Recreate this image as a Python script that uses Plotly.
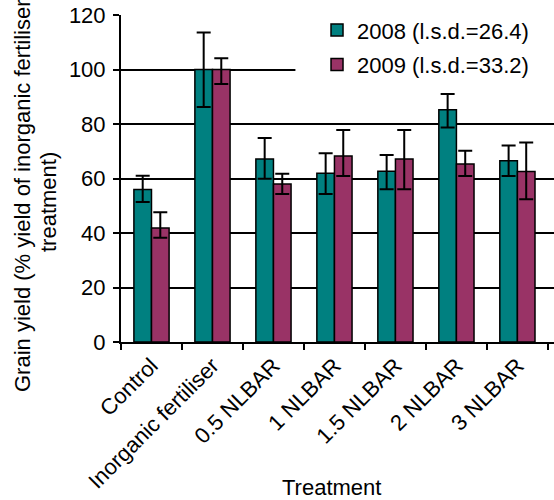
import plotly.graph_objects as go

categories = ["Control", "Inorganic fertiliser", "0.5 NLBAR", "1 NLBAR", "1.5 NLBAR", "2 NLBAR", "3 NLBAR"]
y2008 = [56.0, 100.0, 67.2, 61.9, 62.7, 85.2, 66.5]
y2008_plus = [5.0, 13.6, 7.7, 7.4, 5.9, 5.8, 5.6]
y2008_minus = [4.6, 13.8, 7.3, 7.6, 6.6, 6.5, 5.6]
y2009 = [41.8, 100.0, 58.0, 68.3, 67.2, 65.3, 62.6]
y2009_plus = [5.8, 4.1, 3.7, 9.5, 10.6, 4.9, 10.6]
y2009_minus = [3.5, 5.3, 3.7, 7.4, 11.1, 4.4, 10.2]
names = ["2008 (l.s.d.=26.4)", "2009 (l.s.d.=33.2)"]
colors = ["#008080", "#993366"]
yticks = [0, 20, 40, 60, 80, 100, 120]
ytitle = ["Grain yield (% yield of inorganic fertiliser", "treatment)"]
xtitle = "Treatment"

FONT = "Arial, 'Liberation Sans', sans-serif"

fig = go.Figure()
for vals, ep, em, name, col in [
    (y2008, y2008_plus, y2008_minus, names[0], colors[0]),
    (y2009, y2009_plus, y2009_minus, names[1], colors[1]),
]:
    fig.add_trace(go.Bar(
        x=categories, y=vals, name=name, legendgroup=name,
        marker=dict(color=col, line=dict(color="black", width=1.5)),
        error_y=dict(type="data", symmetric=False, array=ep, arrayminus=em,
                     color="black", thickness=2, width=7),
    ))

PLOT_L, PLOT_W, PLOT_B, PLOT_H = 121, 433, 342, 327

fig.update_layout(
    width=554, height=500,
    margin=dict(l=PLOT_L, r=0, t=15, b=158),
    paper_bgcolor="white", plot_bgcolor="white",
    font=dict(family=FONT, size=22, color="black"),
    barmode="group", bargap=0.423, bargroupgap=0,
    showlegend=True,
    legend=dict(x=0.4527, y=1.018, xanchor="left", yanchor="top",
                bgcolor="rgba(0,0,0,0)", borderwidth=0,
                font=dict(family=FONT, size=22, color="black"),
                traceorder="grouped", tracegroupgap=3),
    xaxis=dict(
        type="category", tickangle=-45, tickson="boundaries",
        ticks="outside", ticklen=6, tickwidth=2, tickcolor="black",
        showline=True, linecolor="black", linewidth=2,
        showgrid=False, tickfont=dict(size=22),
    ),
    yaxis=dict(
        range=[0, 120], tickvals=yticks, ticktext=[str(v) for v in yticks],
        ticks="outside", ticklen=6, tickwidth=2, tickcolor="black",
        showline=True, linecolor="black", linewidth=2,
        showgrid=True, gridcolor="black", gridwidth=2,
        zeroline=False, tickfont=dict(size=22), ticklabelstandoff=3,
    ),
    shapes=[
        dict(type="rect", layer="between", xref="x", yref="y",
             x0=2.36, x1=6.6, y0=92, y1=120.6,
             fillcolor="white", line=dict(width=0)),
    ],
    annotations=[
        dict(text=ytitle[0], xref="paper", yref="paper", x=0,
             y=(PLOT_B - 196) / PLOT_H,
             xanchor="center", yanchor="middle", xshift=-(PLOT_L - 23),
             textangle=-90, showarrow=False, font=dict(size=22)),
        dict(text=ytitle[1], xref="paper", yref="paper", x=0,
             y=(PLOT_B - 202) / PLOT_H,
             xanchor="center", yanchor="middle", xshift=-(PLOT_L - 48),
             textangle=-90, showarrow=False, font=dict(size=22)),
        dict(text=xtitle, xref="paper", yref="paper",
             x=(331 - PLOT_L) / PLOT_W, y=0, xanchor="center", yanchor="middle",
             yshift=-(487 - PLOT_B), showarrow=False, font=dict(size=22)),
    ],
)

fig.write_html("out.html")
